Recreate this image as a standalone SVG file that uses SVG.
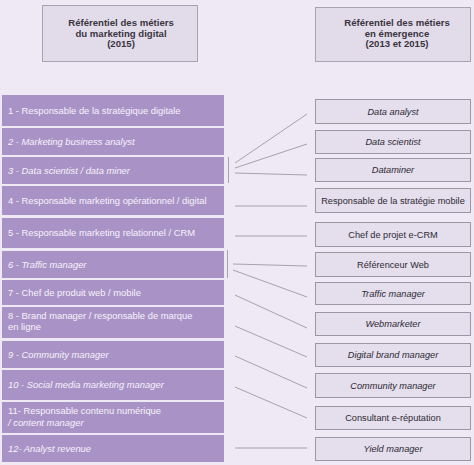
<svg xmlns="http://www.w3.org/2000/svg" width="474" height="465" viewBox="0 0 474 465">
<style>
.bg{fill:#eee9f4}
.hdr{fill:#e2dcea;stroke:#a8a2b2;stroke-width:1}
.ht{font-family:"Liberation Sans",Arial,sans-serif;font-size:9.6px;font-weight:bold;fill:#3a3440;text-anchor:middle}
.lb{fill:#a993c6}
.lt{font-family:"Liberation Sans",Arial,sans-serif;font-size:9.4px;fill:#f7f2fb}
.rb{fill:#e4deed;stroke:#9c96a6;stroke-width:1}
.rt{font-family:"Liberation Sans",Arial,sans-serif;font-size:9.2px;fill:#2e2a33;text-anchor:middle}
.it{font-style:italic}
.cn line{stroke:#a7a1b1;stroke-width:1;fill:none}
</style>
<rect class="bg" x="0" y="0" width="474" height="465"/>
<g id="hdr-left">
<rect class="hdr" x="42.5" y="5.5" width="155" height="56"/>
<text class="ht" x="121" y="26">Référentiel des métiers</text>
<text class="ht" x="121" y="36.5">du marketing digital</text>
<text class="ht" x="121" y="47">(2015)</text>
</g>
<g id="hdr-right">
<rect class="hdr" x="315.5" y="7.5" width="155" height="54"/>
<text class="ht" x="397" y="26">Référentiel des métiers</text>
<text class="ht" x="397" y="36.5">en émergence</text>
<text class="ht" x="397" y="47">(2013 et 2015)</text>
</g>
<g id="l1"><rect class="lb" x="2" y="95" width="222" height="31"/><text class="lt" x="8" y="114">1 - Responsable de la stratégique digitale</text></g>
<g id="l2"><rect class="lb" x="2" y="128" width="222" height="27"/><text class="lt it" x="8" y="144.5">2 - Marketing business analyst</text></g>
<g id="l3"><rect class="lb" x="2" y="157" width="222" height="27"/><text class="lt it" x="8" y="173.5">3 - Data scientist / data miner</text></g>
<g id="l4"><rect class="lb" x="2" y="186" width="222" height="29"/><text class="lt" x="8" y="203.5">4 - Responsable marketing opérationnel / digital</text></g>
<g id="l5"><rect class="lb" x="2" y="218" width="222" height="30"/><text class="lt" x="8" y="236">5 - Responsable marketing relationnel / CRM</text></g>
<g id="l6"><rect class="lb" x="2" y="251" width="222" height="27"/><text class="lt it" x="8" y="267.5">6 - Traffic manager</text></g>
<g id="l7"><rect class="lb" x="2" y="280" width="222" height="25"/><text class="lt" x="8" y="295.5">7 - Chef de produit web / mobile</text></g>
<g id="l8"><rect class="lb" x="2" y="307" width="222" height="31"/><text class="lt" x="8" y="319">8 - Brand manager / responsable de marque</text><text class="lt" x="8" y="330">en ligne</text></g>
<g id="l9"><rect class="lb" x="2" y="341" width="222" height="27"/><text class="lt it" x="8" y="357.5">9 - Community manager</text></g>
<g id="l10"><rect class="lb" x="2" y="370" width="222" height="30"/><text class="lt it" x="8" y="387.5">10 - Social media marketing manager</text></g>
<g id="l11"><rect class="lb" x="2" y="402" width="222" height="31"/><text class="lt" x="8" y="414">11- Responsable contenu numérique</text><text class="lt it" x="8" y="425.5">/ content manager</text></g>
<g id="l12"><rect class="lb" x="2" y="435" width="222" height="27"/><text class="lt it" x="8" y="451.5">12- Analyst revenue</text></g>
<g id="r1"><rect class="rb" x="315.5" y="99.5" width="155" height="24"/><text class="rt it" x="393" y="114.5">Data analyst</text></g>
<g id="r2"><rect class="rb" x="315.5" y="130.5" width="155" height="23"/><text class="rt it" x="393" y="145">Data scientist</text></g>
<g id="r3"><rect class="rb" x="315.5" y="158.5" width="155" height="23"/><text class="rt it" x="393" y="173">Dataminer</text></g>
<g id="r4"><rect class="rb" x="315.5" y="188.5" width="155" height="24"/><text class="rt" x="393" y="203.5">Responsable de la stratégie mobile</text></g>
<g id="r5"><rect class="rb" x="315.5" y="222.5" width="155" height="24"/><text class="rt" x="393" y="237.5">Chef de projet e-CRM</text></g>
<g id="r6"><rect class="rb" x="315.5" y="252.5" width="155" height="24"/><text class="rt" x="393" y="267.5">Référenceur Web</text></g>
<g id="r7"><rect class="rb" x="315.5" y="282.5" width="155" height="22"/><text class="rt it" x="393" y="296.5">Traffic manager</text></g>
<g id="r8"><rect class="rb" x="315.5" y="312.5" width="155" height="23"/><text class="rt it" x="393" y="327">Webmarketer</text></g>
<g id="r9"><rect class="rb" x="315.5" y="343.5" width="155" height="23"/><text class="rt it" x="393" y="358">Digital brand manager</text></g>
<g id="r10"><rect class="rb" x="315.5" y="373.5" width="155" height="24"/><text class="rt it" x="393" y="388.5">Community manager</text></g>
<g id="r11"><rect class="rb" x="315.5" y="406.5" width="155" height="23"/><text class="rt" x="393" y="421">Consultant e-réputation</text></g>
<g id="r12"><rect class="rb" x="315.5" y="437.5" width="155" height="23"/><text class="rt it" x="393" y="452">Yield manager</text></g>
<g id="connectors" class="cn">
<line x1="228.5" y1="157" x2="228.5" y2="183"/>
<line x1="235" y1="163" x2="307" y2="114"/>
<line x1="235" y1="168" x2="307" y2="144"/>
<line x1="235" y1="173" x2="307" y2="175"/>
<line x1="235" y1="206" x2="307" y2="206"/>
<line x1="235" y1="236" x2="307" y2="236"/>
<line x1="227.5" y1="250" x2="227.5" y2="278"/>
<line x1="233" y1="264" x2="307" y2="266"/>
<line x1="233" y1="270" x2="307" y2="297"/>
<line x1="235" y1="295" x2="307" y2="328"/>
<line x1="235" y1="326" x2="307" y2="357"/>
<line x1="235" y1="356" x2="307" y2="388"/>
<line x1="235" y1="387" x2="307" y2="418"/>
<line x1="235" y1="448" x2="307" y2="448"/>
</g>
</svg>
